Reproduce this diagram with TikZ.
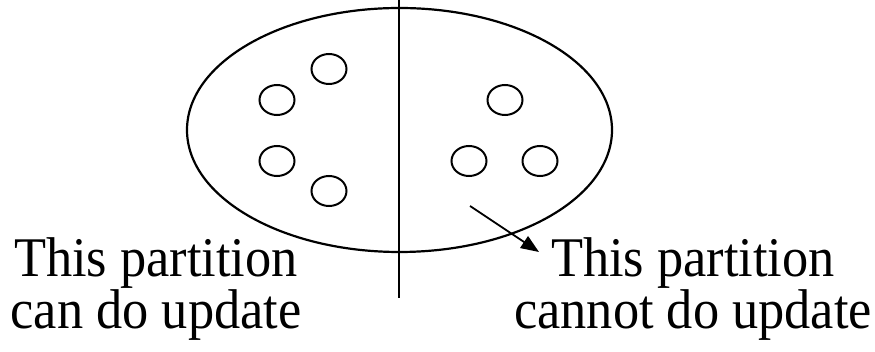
\documentclass[tikz,border=0pt]{standalone}
\usepackage{fontspec}
\newfontfamily\tmsfont[FakeStretch=0.935]{Liberation Serif}
\usetikzlibrary{arrows.meta,shapes.geometric}
\definecolor{cink}{HTML}{000000}
\tikzset{
  part/.style={draw=cink,ellipse,line width=2.2pt,minimum width=425pt,minimum height=244pt,inner sep=0pt},
  item/.style={draw=cink,ellipse,line width=2pt,minimum width=35pt,minimum height=30pt,inner sep=0pt},
  lbl/.style={font=\tmsfont\fontsize{56}{52}\selectfont,align=center,inner sep=0pt,text=cink},
}

\begin{document}
\begin{tikzpicture}[x=1pt,y=-1pt]
\useasboundingbox (0,0) rectangle (875,352);

% ================= the set, cut in two =================
\node[part] (set) at (399.5,130) {};
\coordinate (cuttop) at (399,0);
\coordinate (cutbot) at (399,298);
\draw[cink,line width=2.2pt] (cuttop) -- (cutbot);

% ================= members =================
\node[item] (l1) at (329,69) {};
\node[item] (l2) at (277,100) {};
\node[item] (l3) at (277,161) {};
\node[item] (l4) at (329,191) {};
\node[item] (r1) at (505,100) {};
\node[item] (r2) at (469,161) {};
\node[item] (r3) at (540,161) {};

% ================= labels =================
\node[lbl,anchor=base] (ltext) at (156,329) {This partition\\can do update};
\node[lbl,anchor=base] (rtext) at (693,329) {This partition\\cannot do update};
\coordinate (src) at (470,206);
\coordinate (tip) at (539,252);
\draw[cink,line width=1.8pt,-{Triangle[length=18pt,width=14pt]}] (src) -- (tip);

\end{tikzpicture}
\end{document}
